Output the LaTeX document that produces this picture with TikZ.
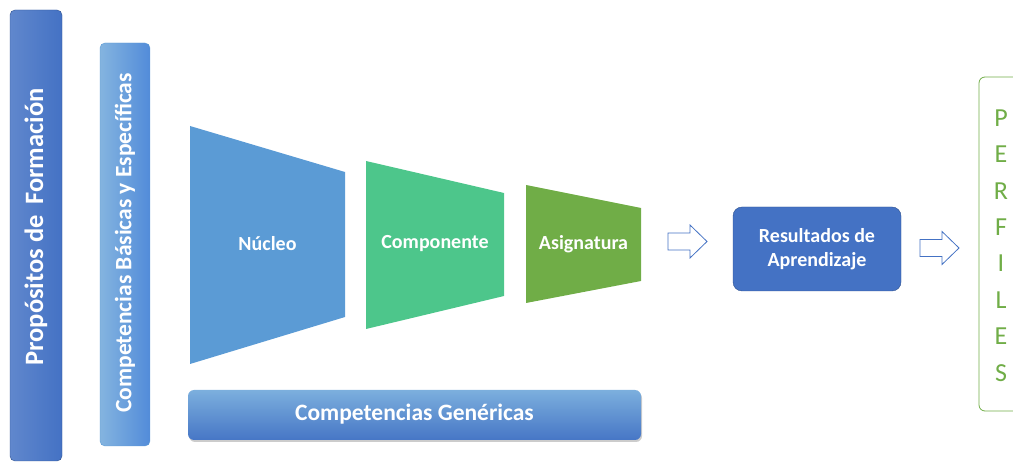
\documentclass[tikz,border=0pt]{standalone}
\usepackage{fontspec}
\setmainfont{Carlito}
\usetikzlibrary{positioning,shadows}
\definecolor{azuloscuro}{HTML}{4472C4}
\definecolor{bordeazul}{HTML}{2F528F}
\definecolor{azulmedio}{HTML}{5B9BD5}
\definecolor{verdeagua}{HTML}{4DC68B}
\definecolor{verde}{HTML}{70AD47}

\begin{document}
\begin{tikzpicture}[x=1pt,y=-1pt]
\useasboundingbox (0,0) rectangle (1013,462);
% vertical bars
\draw[bordeazul, rounded corners=5pt, left color=azuloscuro!85!white, right color=azuloscuro] (10,10) rectangle (62,461);
\node[rotate=90, text=white, font=\bfseries\fontsize{26.5}{30}\selectfont] (proposito) at (36,227) {Propósitos de\hspace{0.4em}Formación};
\draw[azulmedio, rounded corners=5pt, left color=azulmedio!75!white, right color=azulmedio!90!blue] (100,43) rectangle (150,446);
\node[rotate=90, text=white, font=\bfseries\fontsize{23.5}{28}\selectfont] (basicas) at (125,243) {Competencias Básicas y Específicas};
% funnel
\coordinate (N1) at (190,126); \coordinate (N2) at (345,172);
\coordinate (N3) at (345,317); \coordinate (N4) at (190,364);
\fill[azulmedio] (N1) -- (N2) -- (N3) -- (N4) -- cycle;
\node[text=white, font=\bfseries\fontsize{20}{24}\selectfont] (nucleo) at (267.5,244) {Núcleo};
\coordinate (C1) at (366,161); \coordinate (C2) at (504,193);
\coordinate (C3) at (504,296); \coordinate (C4) at (366,329);
\fill[verdeagua] (C1) -- (C2) -- (C3) -- (C4) -- cycle;
\node[text=white, font=\bfseries\fontsize{20}{24}\selectfont] (componente) at (435,244) {Componente};
\coordinate (A1) at (526,185); \coordinate (A2) at (641,208);
\coordinate (A3) at (641,281); \coordinate (A4) at (526,303);
\fill[verde] (A1) -- (A2) -- (A3) -- (A4) -- cycle;
\node[text=white, font=\bfseries\fontsize{20}{24}\selectfont] (asignatura) at (583.5,244) {Asignatura};
% generic competences
\shade[rounded corners=6pt, top color=azulmedio!80!white, bottom color=azuloscuro!90!azulmedio, drop shadow={shadow xshift=1pt, shadow yshift=-2pt, opacity=0.4}] (188,390) rectangle (641,440);
\node[text=white, font=\bfseries\fontsize{23.5}{28}\selectfont] (genericas) at (414.5,414) {Competencias Genéricas};
% results
\node[draw=bordeazul, fill=azuloscuro, rounded corners=9pt, minimum width=168pt, minimum height=84pt,
  align=center, text=white, font=\bfseries\fontsize{20}{24}\selectfont] (resultados) at (817,249) {Resultados de\\Aprendizaje};
% hollow arrows
\foreach \ax/\ay in {668/241.5, 920/248}
  \draw[azuloscuro, fill=white, line width=0.8pt] (\ax,\ay-8.5) -- ++(22,0) -- ++(0,-8) -- ++(17,16.5)
    -- ++(-17,16.5) -- ++(0,-8) -- ++(-22,0) -- cycle;
% profiles
\draw[verde, rounded corners=6pt, line width=0.8pt] (1030,77) -- (979,77) -- (979,411) -- (1030,411);
\node[align=center, text=verde, font=\fontsize{26}{36.4}\selectfont] (perfiles) at (1001,245.5) {P\\E\\R\\F\\I\\L\\E\\S};
\end{tikzpicture}
\end{document}
